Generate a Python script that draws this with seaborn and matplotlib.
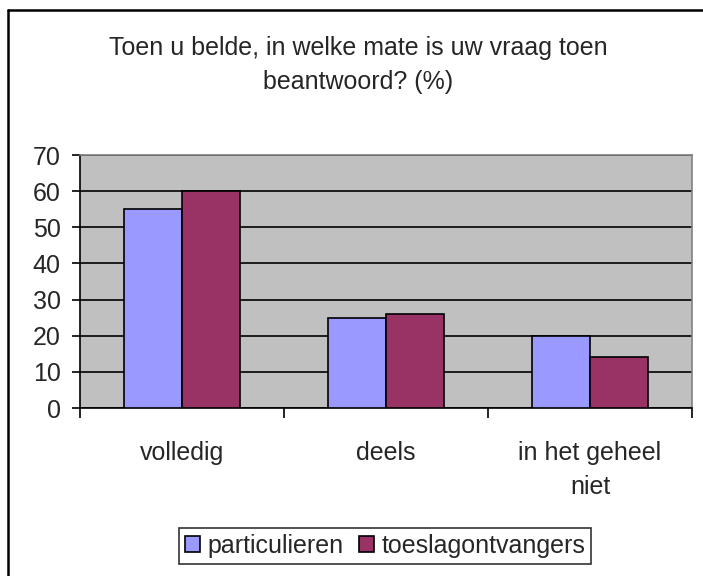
import seaborn as sns
import matplotlib.pyplot as plt
import pandas as pd
from matplotlib.lines import Line2D
from matplotlib.patches import Patch

# Data
categories = ['volledig', 'deels', 'in het geheel\nniet']
particulieren = [55, 25, 20]
toeslagontvangers = [60, 26, 14]

colors = {'particulieren': '#9999FF', 'toeslagontvangers': '#993366'}

df = pd.DataFrame({
    'categorie': categories * 2,
    'groep': ['particulieren'] * 3 + ['toeslagontvangers'] * 3,
    'waarde': particulieren + toeslagontvangers,
})

sns.set_style('white')
plt.rcParams['font.family'] = ['Liberation Sans', 'DejaVu Sans']

fig = plt.figure(figsize=(7.03, 5.76), dpi=100)
ax = fig.add_axes([80 / 703, 1 - 408 / 576, 612 / 703, 253 / 576])

sns.barplot(
    data=df, x='categorie', y='waarde', hue='groep',
    palette=colors, saturation=1, width=0.57, gap=0,
    edgecolor='black', linewidth=1.2, ax=ax, legend=False, zorder=3
)

ax.set_facecolor('#C0C0C0')
ax.set_ylim(0, 70)
ax.set_xlim(-0.5, 2.5)
ax.set_yticks(range(0, 71, 10))
ax.yaxis.grid(True, color='black', linewidth=1.2, zorder=1)
ax.set_axisbelow(True)
ax.set_xlabel('')
ax.set_ylabel('')

# x tick marks at category boundaries, labels centred under the bars
ax.set_xticks([0, 1, 2])
ax.set_xticklabels(categories, fontsize=18, linespacing=1.5)
ax.tick_params(axis='x', length=0, pad=24)
ax.set_xticks([-0.5, 0.5, 1.5, 2.5], minor=True)
ax.tick_params(axis='x', which='minor', length=7, width=1.2, color='black',
               direction='out', bottom=True)
ax.tick_params(axis='y', length=6, width=1.2, color='black', direction='out',
               left=True, labelsize=18, pad=8)

for side in ['left', 'bottom']:
    ax.spines[side].set_color('black')
    ax.spines[side].set_linewidth(1.2)
for side in ['top', 'right']:
    ax.spines[side].set_color('#808080')
    ax.spines[side].set_linewidth(1.2)

fig.text(0.51, 1 - 48 / 576, 'Toen u belde, in welke mate is uw vraag toen',
         ha='center', va='center', fontsize=18)
fig.text(0.51, 1 - 82 / 576, 'beantwoord? (%)', ha='center', va='center', fontsize=18)

handles = [Patch(facecolor=colors[k], edgecolor='black', linewidth=1.2) for k in colors]
leg = fig.legend(handles, list(colors), loc='center', bbox_to_anchor=(385 / 703, 1 - 546 / 576),
                 ncol=2, frameon=True, fancybox=False, fontsize=18,
                 handlelength=0.6, handleheight=0.6, handletextpad=0.3, columnspacing=0.6,
                 borderpad=0.25, borderaxespad=0)
leg.get_frame().set_edgecolor('black')
leg.get_frame().set_linewidth(1.2)

# chart frame, cut off at the right and bottom edges
fx, fy = 8 / 703, 1 - 10 / 576
fig.add_artist(Line2D([fx, fx], [0, fy], transform=fig.transFigure, color='black', linewidth=1.8))
fig.add_artist(Line2D([fx, 1], [fy, fy], transform=fig.transFigure, color='black', linewidth=1.8))

fig.savefig('out.png', dpi=100, facecolor='white')
